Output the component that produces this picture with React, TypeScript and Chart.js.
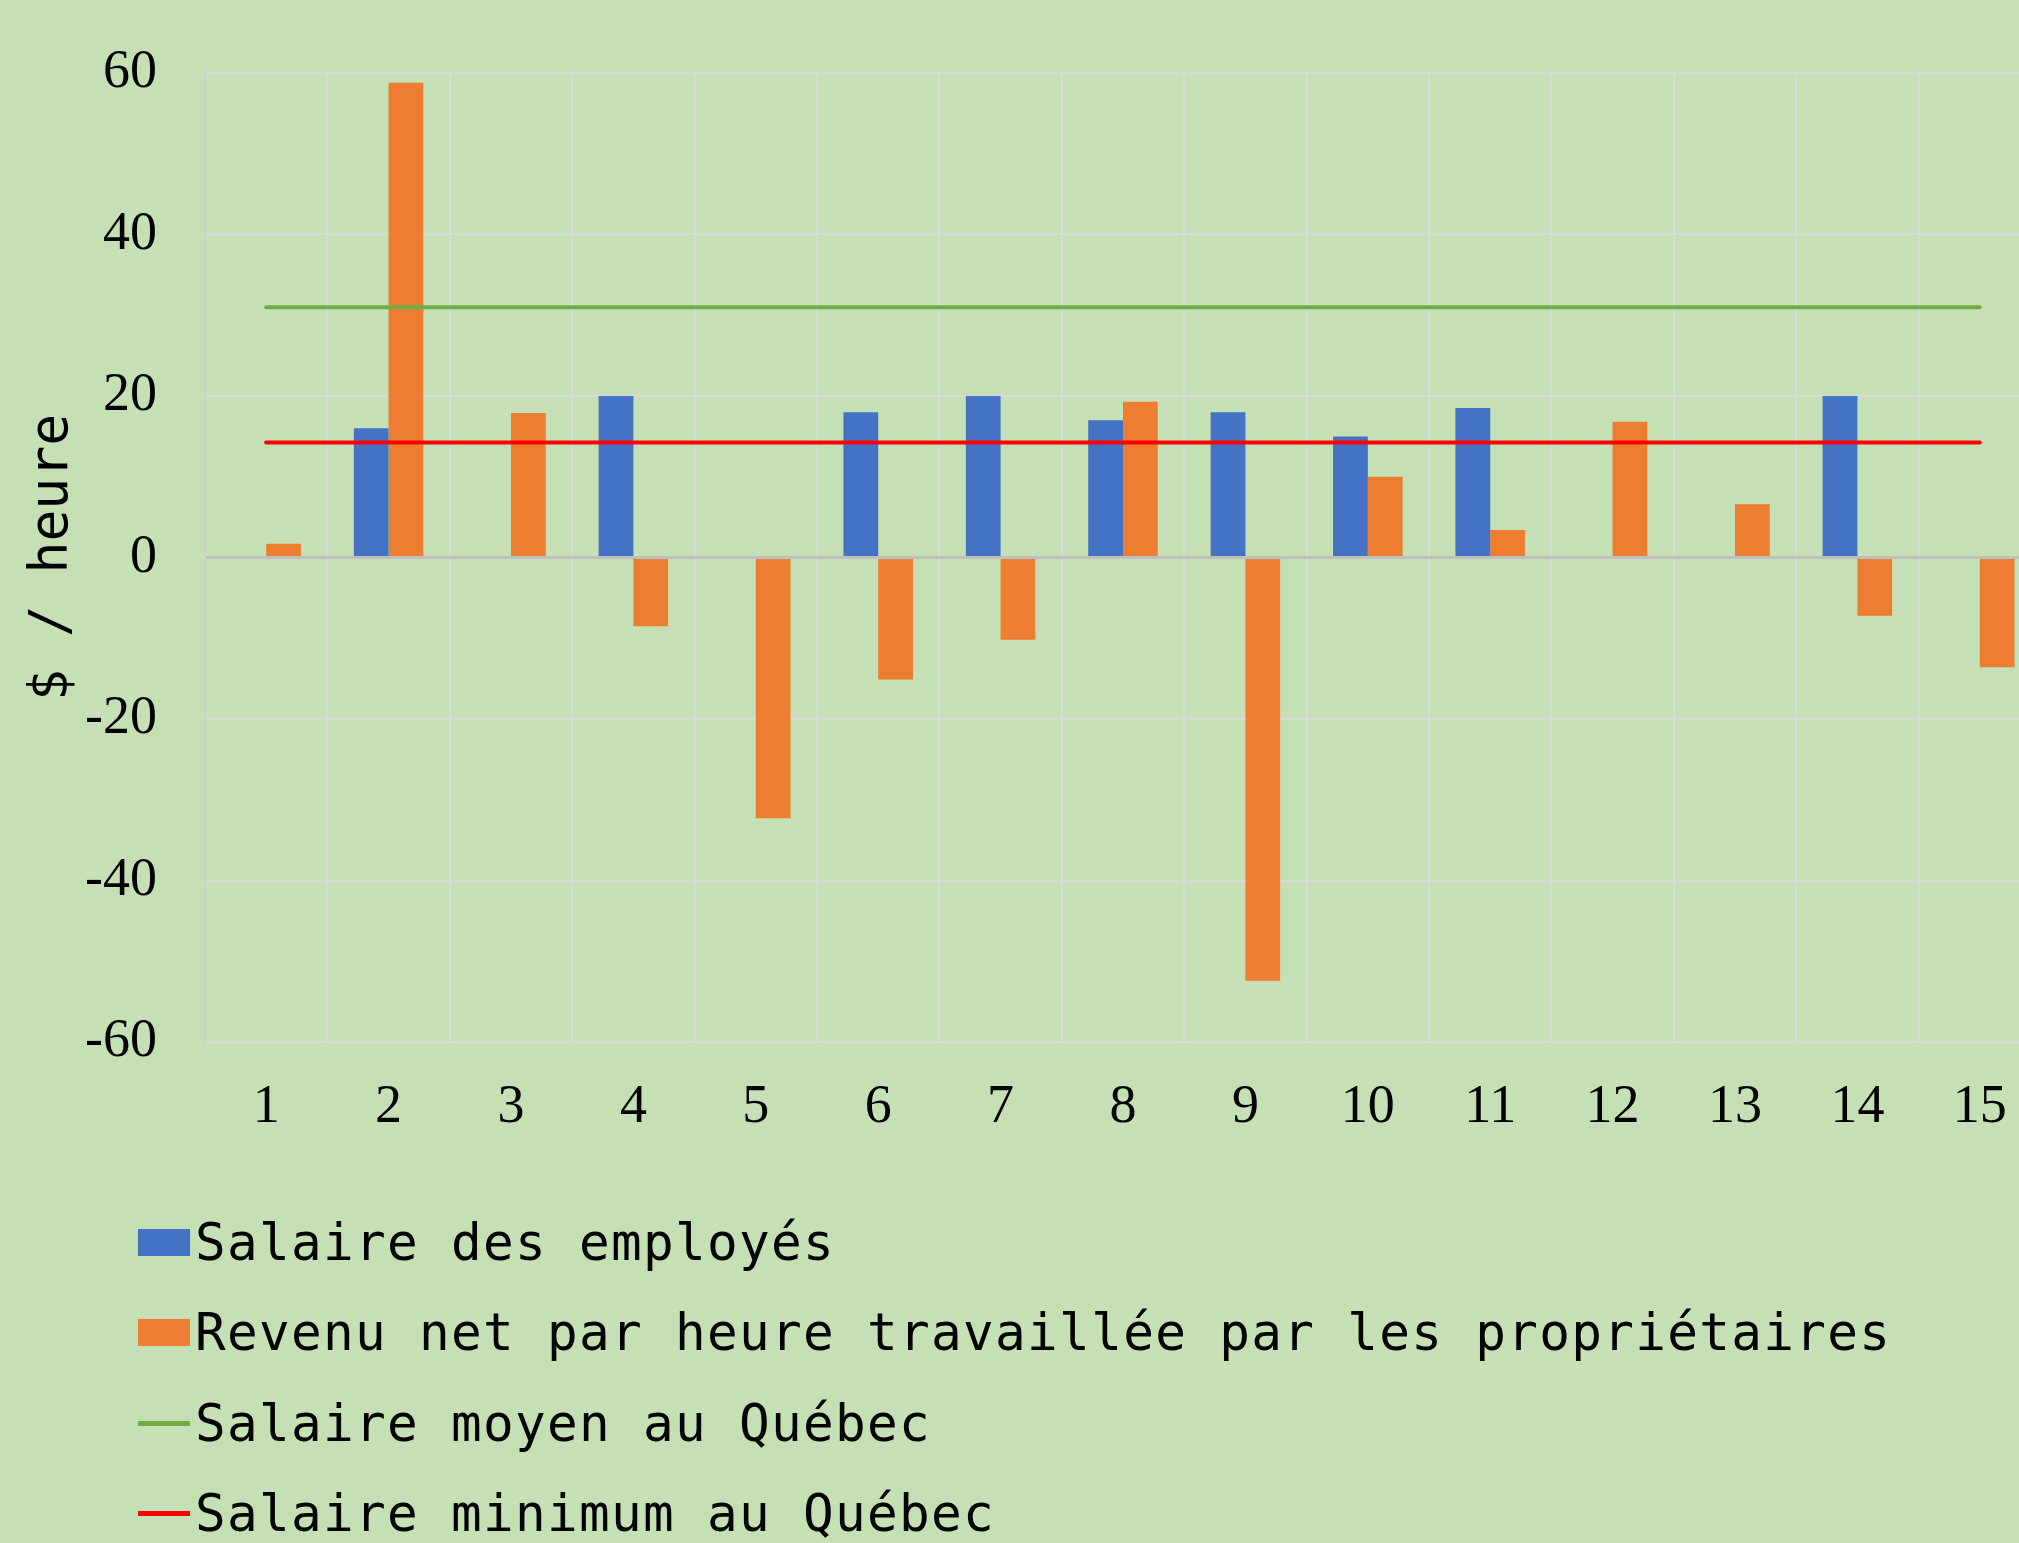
import React, { useEffect, useRef } from 'react';
import { Chart, registerables } from 'chart.js';

Chart.register(...registerables);

const categories = ['1', '2', '3', '4', '5', '6', '7', '8', '9', '10', '11', '12', '13', '14', '15'];
const salaireEmployes = [null, 16, null, 20, null, 18, 20, 17, 18, 15, 18.5, null, null, 20, null];
const revenuNetProprietaires = [1.7, 58.8, 17.9, -8.5, -32.3, -15.1, -10.2, 19.3, -52.4, 10, 3.4, 16.8, 6.6, -7.2, -13.6];
const salaireMoyenQuebec = [31, 31, 31, 31, 31, 31, 31, 31, 31, 31, 31, 31, 31, 31, 31];
const salaireMinimumQuebec = [14.25, 14.25, 14.25, 14.25, 14.25, 14.25, 14.25, 14.25, 14.25, 14.25, 14.25, 14.25, 14.25, 14.25, 14.25];
const yMin = -60;
const yMax = 60;
const yStep = 20;
const yTitle = '$ / heure';
const seriesLabels = [
  'Salaire des employés',
  'Revenu net par heure travaillée par les propriétaires',
  'Salaire moyen au Québec',
  'Salaire minimum au Québec',
];
const seriesColors = ['#4472C4', '#ED7D31', '#70AD47', '#FF0000'];
const seriesKinds = ['bar', 'bar', 'line', 'line'];

const BG = '#C5E0B4';
const MONO = "'DejaVu Sans Mono', monospace";
const SERIF = "'Liberation Serif', 'Times New Roman', serif";

export default function App() {
  const canvasRef = useRef<HTMLCanvasElement | null>(null);

  useEffect(() => {
    const canvas = canvasRef.current;
    if (!canvas) return;
    const chart = new Chart(canvas, {
      type: 'bar',
      data: {
        labels: categories,
        datasets: [
          {
            type: 'line',
            label: seriesLabels[2],
            data: salaireMoyenQuebec,
            borderColor: seriesColors[2],
            backgroundColor: seriesColors[2],
            borderWidth: 4,
            pointRadius: 0,
            borderCapStyle: 'round',
            order: 1,
          },
          {
            type: 'line',
            label: seriesLabels[3],
            data: salaireMinimumQuebec,
            borderColor: seriesColors[3],
            backgroundColor: seriesColors[3],
            borderWidth: 4,
            pointRadius: 0,
            borderCapStyle: 'round',
            order: 1,
          },
          {
            type: 'bar',
            label: seriesLabels[0],
            data: salaireEmployes,
            backgroundColor: seriesColors[0],
            categoryPercentage: 0.568,
            barPercentage: 1.0,
            order: 2,
          },
          {
            type: 'bar',
            label: seriesLabels[1],
            data: revenuNetProprietaires,
            backgroundColor: seriesColors[1],
            categoryPercentage: 0.568,
            barPercentage: 1.0,
            order: 2,
          },
        ] as any,
      },
      options: {
        animation: false,
        responsive: false,
        devicePixelRatio: 1,
        layout: { padding: { left: 0, top: 73, right: 19, bottom: 401 } },
        plugins: {
          legend: { display: false },
          tooltip: { enabled: false },
        },
        scales: {
          x: {
            grid: {
              display: true,
              offset: true,
              color: '#D9D9D9',
              lineWidth: 2,
              drawTicks: false,
            },
            border: { display: true, color: '#D9D9D9', width: 2 },
            ticks: {
              color: '#000',
              font: { family: SERIF, size: 54 },
              padding: 33,
              maxRotation: 0,
              autoSkip: false,
            },
            afterFit: (scale: any) => {
              scale.height = 100;
            },
          },
          y: {
            min: yMin,
            max: yMax,
            grid: {
              color: (ctx: any) => (ctx.tick && ctx.tick.value === 0 ? '#BFBFBF' : '#D9D9D9'),
              lineWidth: (ctx: any) => (ctx.tick && ctx.tick.value === 0 ? 3 : 2),
              drawTicks: false,
            },
            border: { display: true, color: '#CFCFCF', width: 2 },
            ticks: {
              stepSize: yStep,
              color: '#000',
              font: { family: SERIF, size: 54 },
              padding: 48,
            },
            title: {
              display: true,
              text: yTitle,
              color: '#000',
              font: { family: MONO, size: 53 },
              padding: { top: 21, bottom: 0 },
            },
            afterFit: (scale: any) => {
              scale.width = 205;
              scale.paddingTop = 0;
              scale.paddingBottom = 0;
            },
          },
        },
      } as any,
    });
    return () => chart.destroy();
  }, []);

  const rowCenters = [1242, 1332, 1423, 1513];

  return (
    <div
      style={{
        position: 'fixed',
        left: 0,
        top: 0,
        width: '2019px',
        height: '1543px',
        overflow: 'hidden',
        background: BG,
      }}
    >
      <canvas
        ref={canvasRef}
        width={2060}
        height={1543}
        style={{ position: 'absolute', left: 0, top: 0, width: '2060px', height: '1543px' }}
      />
      {seriesLabels.map((label, i) => (
        <div
          key={label}
          style={{
            position: 'absolute',
            left: '138px',
            top: `${rowCenters[i] - 40}px`,
            height: '80px',
            display: 'flex',
            alignItems: 'center',
            whiteSpace: 'nowrap',
          }}
        >
          <div
            style={{
              width: '52px',
              height: seriesKinds[i] === 'bar' ? '27px' : '5px',
              background: seriesColors[i],
              flex: '0 0 auto',
            }}
          />
          <span
            style={{
              marginLeft: '5px',
              fontFamily: MONO,
              fontSize: '51px',
              letterSpacing: '1.3px',
              color: '#000',
              lineHeight: 'normal',
            }}
          >
            {label}
          </span>
        </div>
      ))}
    </div>
  );
}
